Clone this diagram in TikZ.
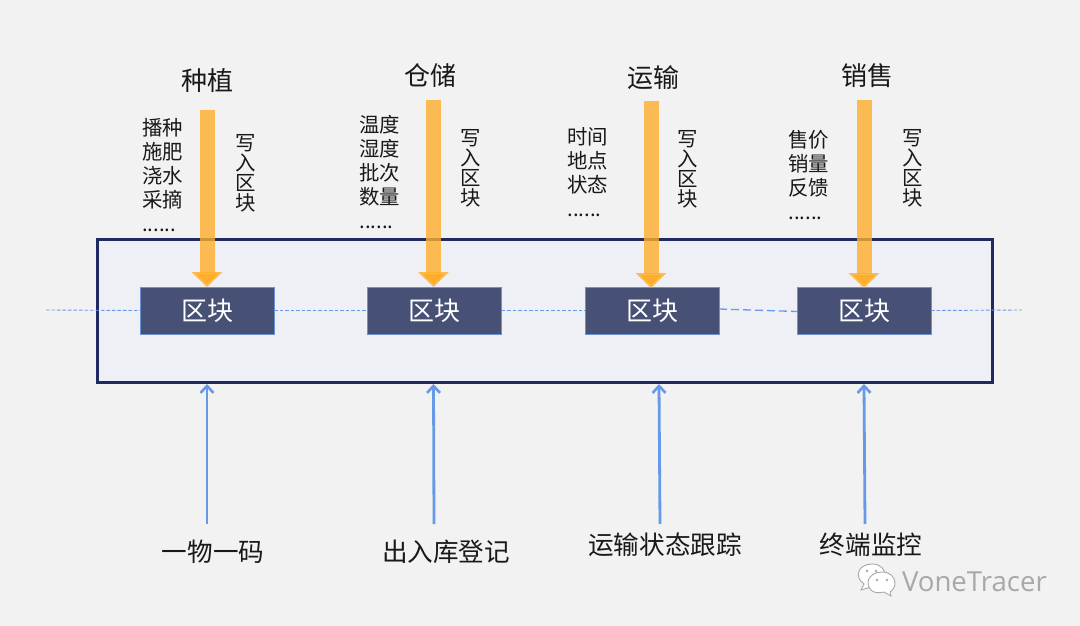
\documentclass[tikz,border=0pt]{standalone}
\usepackage{fontspec}
\setmainfont{Noto Sans CJK SC}
\newfontfamily\latinfont{Open Sans}
\usetikzlibrary{arrows.meta,shadows}
\definecolor{pagebg}{HTML}{F2F2F2}
\definecolor{framefill}{HTML}{EEF0F5}
\definecolor{frameline}{HTML}{1F2A60}
\definecolor{blockfill}{HTML}{475075}
\definecolor{blockline}{HTML}{6C93CF}
\definecolor{feedblue}{HTML}{6699E8}
\definecolor{writeorange}{HTML}{FFAE2A}
\definecolor{markgray}{HTML}{A8A8A8}
\tikzset{
  x=1pt,y=-1pt,
  every node/.style={inner sep=0pt,outer sep=0pt,text=black!90},
  blockbox/.style={draw=blockline,line width=1pt,fill=blockfill,minimum width=134pt,minimum height=47pt,text=white,font=\fontsize{26}{26}\selectfont},
  frame/.style={draw=frameline,line width=3pt,fill=framefill},
  chainline/.style={draw=feedblue,line width=.9pt,dash pattern=on 3.5pt off 2pt},
  writearrow/.style={draw=writeorange,draw opacity=.8,line width=15pt,-{Triangle[width=30pt,length=15pt,fill=writeorange]}},
  feedarrow/.style={draw=feedblue,line width=2.8pt,-{Straight Barb[length=7pt,width=13pt,line width=2.6pt]}},
  stagetitle/.style={font=\fontsize{26}{26}\selectfont},
  bottomlabel/.style={font=\fontsize{25.6}{25.6}\selectfont},
  itemlist/.style={font=\fontsize{20.4}{24}\selectfont,align=left,anchor=north west},
  vertlabel/.style={font=\fontsize{20.4}{20}\selectfont,align=center},
  wechatbubble/.style={draw=markgray,line width=.9pt,fill=white}
}
\begin{document}
\begin{tikzpicture}
\useasboundingbox (0,0) rectangle (1080,626);
\fill[pagebg] (0,0) rectangle (1080,626);
% main frame
\node[frame,minimum width=895pt,minimum height=143pt] (main) at (544.5,310.5) {};
% blocks
\node[blockbox] (b1) at (207,310.5) {区块};
\node[blockbox] (b2) at (434.5,310.5) {区块};
\node[blockbox] (b3) at (652,310.5) {区块};
\node[blockbox] (b4) at (864,310.5) {区块};
% chain
\coordinate (cl) at (46,310);
\coordinate (cr) at (1022,310);
\coordinate (b3o) at ([yshift=1.5pt]b3.east);
\coordinate (b4i) at ([yshift=-1pt]b4.west);
\draw[chainline] (cl) -- (b1.west);
\draw[chainline] (b1.east) -- (b2.west);
\draw[chainline] (b2.east) -- (b3.west);
\draw[chainline,line width=1.3pt,dash pattern=on 8pt off 4pt] (b3o) -- (b4i);
\draw[chainline] (b4.east) -- (cr);
% write arrows
\coordinate (w1) at (207,110);
\coordinate (w2) at (433.5,100);
\coordinate (w3) at (651,101);
\coordinate (w4) at (864,100);
\draw[writearrow] (w1) -- (207,287);
\draw[writearrow] (w2) -- (433.5,287);
\draw[writearrow] (w3) -- (651,288);
\draw[writearrow] (w4) -- (864,288);
% titles
\node[stagetitle] (t1) at (207,81) {种植};
\node[stagetitle] (t2) at (430,75.5) {仓储};
\node[stagetitle] (t3) at (653,77.5) {运输};
\node[stagetitle] (t4) at (867,75.5) {销售};
% lists
\node[itemlist] (l1) at (142,118.5) {播种\\施肥\\浇水\\采摘\\......};
\node[itemlist] (l2) at (359.5,115) {温度\\湿度\\批次\\数量\\......};
\node[itemlist] (l3) at (567.5,127) {时间\\地点\\状态\\......};
\node[itemlist] (l4) at (788.5,130) {售价\\销量\\反馈\\......};
% vertical labels
\node[vertlabel] (v1) at (245.5,173) {写\\入\\区\\块};
\node[vertlabel] (v2) at (470.5,168) {写\\入\\区\\块};
\node[vertlabel] (v3) at (687.5,169) {写\\入\\区\\块};
\node[vertlabel] (v4) at (912.5,168) {写\\入\\区\\块};
% bottom labels
\node[bottomlabel] (s1) at (213,552) {一物一码};
\node[bottomlabel] (s2) at (446,552) {出入库登记};
\node[bottomlabel] (s3) at (665,545) {运输状态跟踪};
\node[bottomlabel] (s4) at (871,545) {终端监控};
% feed arrows
\coordinate (f1a) at (207,524); \coordinate (f1b) at (207,384);
\coordinate (f2a) at (434,524); \coordinate (f2b) at (433.5,384);
\coordinate (f3a) at (660,524); \coordinate (f3b) at (659,384);
\coordinate (f4a) at (865,524); \coordinate (f4b) at (864,384);
\draw[feedarrow] (f1a) -- (f1b);
\draw[feedarrow] (f2a) -- (f2b);
\draw[feedarrow] (f3a) -- (f3b);
\draw[feedarrow] (f4a) -- (f4b);
% watermark
\draw[wechatbubble] (871,587) -- (861,590) -- (864,584) .. controls (853,576) and (859,564) .. (872,564) .. controls (881,564) and (885,570) .. (885,575) -- cycle;
\fill[markgray] (867,571) circle (1.3) (876,571) circle (1.3);
\draw[wechatbubble] (884,592) .. controls (872,595) and (868,588) .. (868,583) .. controls (868,575) and (876,572) .. (882,572) .. controls (890,572) and (895,577) .. (895,583) .. controls (895,587) and (893,590) .. (890,592) -- (891,596) -- cycle;
\fill[markgray] (877,580) circle (1.3) (887,580) circle (1.3);
\node[anchor=west,font=\latinfont\fontsize{27.6}{27.6}\selectfont,text=markgray] (wm) at (902,582) {VoneTracer};
\end{tikzpicture}
\end{document}
